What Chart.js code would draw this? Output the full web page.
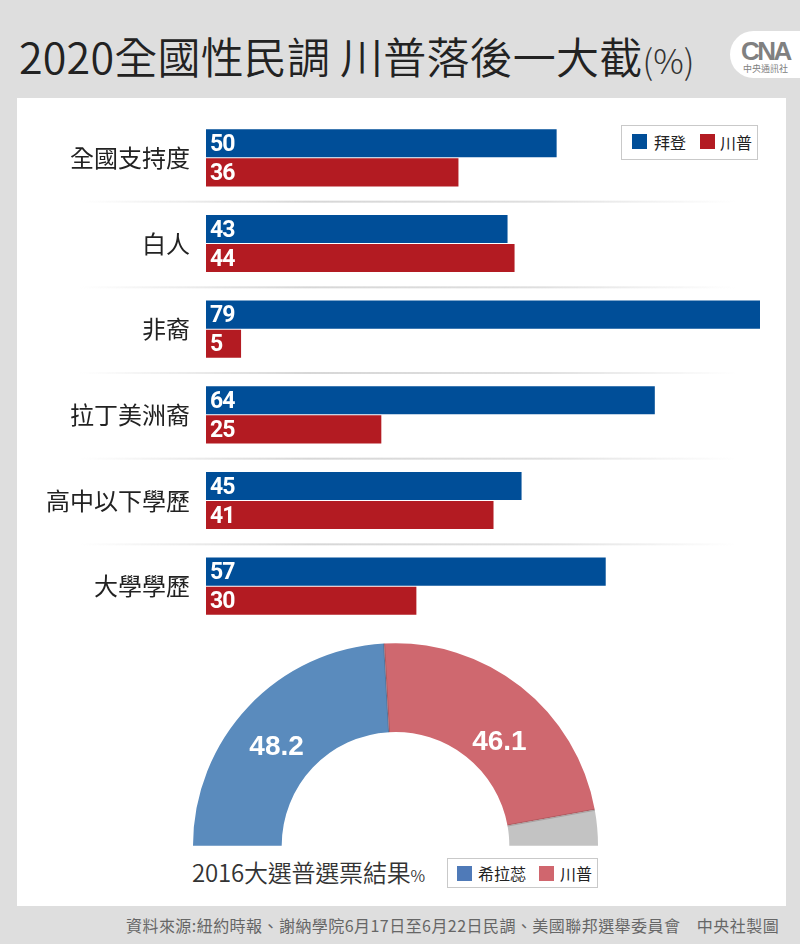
<!DOCTYPE html>
<html lang="zh-Hant">
<head>
<meta charset="utf-8">
<script src="https://cdn.jsdelivr.net/npm/chart.js@4"></script>
<style>
  html, body { margin: 0; padding: 0; }
  body { width: 800px; height: 944px; position: relative; overflow: hidden; background: #dedede;
         font-family: "Noto Sans CJK TC", "Noto Sans", sans-serif; color: #222; }
  .abs { position: absolute; white-space: nowrap; }
  #panel { left: 17px; top: 98px; width: 769px; height: 808px; background: #fff; }
  #title { left: 19px; top: 24px; font-size: 43px; font-weight: 350; line-height: 62px; letter-spacing: 0.2px; }
  #title small { font-size: 34px; font-weight: 300; letter-spacing: 0; color: #333; }
  #logo { left: 730px; top: 31px; width: 70px; height: 47px; background: #fff; border-radius: 24px 0 0 24px; text-align: center; color: #808080; }
  #logo b { position: absolute; left: 11px; top: 8px; font: 900 26px/24px "Liberation Sans", sans-serif; letter-spacing: -2.5px; }
  #logo span { position: absolute; left: 13px; top: 32px; font-size: 9px; line-height: 11px; }
  #barBox { left: 0; top: 115px; width: 800px; height: 514px; }
  #arcBox { left: 193px; top: 643px; width: 405px; height: 203px; }
  .legend { background: #fff; border: 1px solid #c9c9c9; box-sizing: border-box; }
  .swatch { position: absolute; width: 15px; height: 15px; }
  .legend span { position: absolute; font-size: 16px; line-height: 20px; color: #222; }
  #caption { left: 192px; top: 855px; font-size: 24px; font-weight: 350; line-height: 34px; letter-spacing: -0.2px; color: #333; }
  #caption small { font-size: 16px; }
  #source { left: 126px; top: 913px; font-size: 16px; line-height: 24px; color: #666; letter-spacing: 0.45px; }
</style>
</head>
<body>
<div class="abs" id="panel"></div>
<div class="abs" id="title">2020全國性民調 川普落後一大截<small>(%)</small></div>
<div class="abs" id="logo"><b>CNA</b><span>中央通訊社</span></div>

<div class="abs" id="barBox"><canvas id="barChart"></canvas></div>
<div class="abs legend" style="left:621px;top:125px;width:137px;height:35px">
  <i class="swatch" style="left:10px;top:8px;background:#004e98"></i><span style="left:32px;top:6px">拜登</span>
  <i class="swatch" style="left:78px;top:8px;background:#b31b22"></i><span style="left:98px;top:6px">川普</span>
</div>

<div class="abs" id="arcBox"><canvas id="arcChart"></canvas></div>
<div class="abs" id="caption">2016大選普選票結果<small>%</small></div>
<div class="abs legend" style="left:447px;top:858px;width:151px;height:30px">
  <i class="swatch" style="left:9px;top:7px;background:#4f7ab8"></i><span style="left:30px;top:4px">希拉蕊</span>
  <i class="swatch" style="left:91px;top:7px;background:#d0666e"></i><span style="left:112px;top:4px">川普</span>
</div>

<div class="abs" id="source">資料來源:紐約時報、謝納學院6月17日至6月22日民調、美國聯邦選舉委員會　中央社製圖</div>

<script>
const categories = ['全國支持度', '白人', '非裔', '拉丁美洲裔', '高中以下學歷', '大學學歷'];
const biden = [50, 43, 79, 64, 45, 57];
const trump = [36, 44, 5, 25, 41, 30];

const arcLabels = ['希拉蕊', '川普', '其他'];
const arcValues = [48.2, 46.1, 5.7];
const arcColors = ['#5a8bbd', '#cf686f', '#c3c3c3'];

// faded rules between the rows, and the numbers inside the bars
const rowRules = {
  id: 'rowRules',
  beforeDatasetsDraw(chart) {
    const ctx = chart.ctx;
    const y = chart.scales.y;
    for (let i = 0; i < categories.length; i++) {
      const py = y.getPixelForValue(i) + (y.getPixelForValue(1) - y.getPixelForValue(0)) / 2;
      const g = ctx.createLinearGradient(80, 0, 735, 0);
      g.addColorStop(0, 'rgba(215,215,215,0)');
      g.addColorStop(0.35, 'rgba(215,215,215,1)');
      g.addColorStop(0.7, 'rgba(215,215,215,.8)');
      g.addColorStop(1, 'rgba(215,215,215,0)');
      ctx.fillStyle = g;
      ctx.fillRect(80, py, 655, 2);
    }
  }
};
const barNumbers = {
  id: 'barNumbers',
  afterDatasetsDraw(chart) {
    const ctx = chart.ctx;
    ctx.save();
    ctx.fillStyle = '#fff';
    ctx.font = 'bold 23px Roboto, sans-serif';
    ctx.letterSpacing = '-1px';
    ctx.textBaseline = 'middle';
    chart.data.datasets.forEach((ds, d) => {
      chart.getDatasetMeta(d).data.forEach((bar, i) => {
        ctx.fillText(ds.data[i], chart.scales.x.left + 4, bar.y + 2);
      });
    });
    ctx.restore();
  }
};

new Chart(document.getElementById('barChart'), {
  type: 'bar',
  data: {
    labels: categories,
    datasets: [
      { label: '拜登', data: biden, backgroundColor: '#004e98', barPercentage: 0.966, categoryPercentage: 0.678 },
      { label: '川普', data: trump, backgroundColor: '#b31b22', barPercentage: 0.966, categoryPercentage: 0.678 }
    ]
  },
  options: {
    indexAxis: 'y',
    responsive: true,
    maintainAspectRatio: false,
    animation: false,
    layout: { padding: { right: 40 } },
    plugins: { legend: { display: false }, tooltip: { enabled: false } },
    scales: {
      x: { display: false, min: 0, max: 79 },
      y: {
        border: { display: false },
        grid: { display: false },
        afterFit(scale) { scale.width = 206; scale.paddingTop = 0; scale.paddingBottom = 0; },
        ticks: { color: '#222', padding: 8, font: { size: 24, family: '"Noto Sans CJK TC", sans-serif' } }
      }
    }
  },
  plugins: [rowRules, barNumbers]
});

const arcNumbers = {
  id: 'arcNumbers',
  afterDatasetsDraw(chart) {
    const ctx = chart.ctx;
    const arcs = chart.getDatasetMeta(0).data;
    ctx.save();
    // soft dark edge where one slice overlaps the next
    ctx.strokeStyle = 'rgba(70,40,40,.22)';
    ctx.lineWidth = 2;
    [arcs[1], arcs[2]].forEach(a => {
      const c = Math.cos(a.startAngle), s = Math.sin(a.startAngle);
      ctx.beginPath();
      ctx.moveTo(a.x + a.innerRadius * c, a.y + a.innerRadius * s);
      ctx.lineTo(a.x + a.outerRadius * c, a.y + a.outerRadius * s);
      ctx.stroke();
    });
    ctx.fillStyle = '#fff';
    ctx.font = 'bold 28px "Liberation Sans", sans-serif';
    ctx.textAlign = 'center';
    ctx.textBaseline = 'middle';
    // labels sit lower than the middle of each slice in the original
    ctx.fillText(arcValues[0].toFixed(1), arcs[0].getCenterPoint().x - 4, arcs[0].getCenterPoint().y + 10);
    ctx.fillText(arcValues[1].toFixed(1), arcs[1].getCenterPoint().x + 6, arcs[1].getCenterPoint().y + 21);
    ctx.restore();
  }
};

new Chart(document.getElementById('arcChart'), {
  type: 'doughnut',
  data: {
    labels: arcLabels,
    datasets: [{ data: arcValues, backgroundColor: arcColors, borderWidth: 0 }]
  },
  options: {
    responsive: true,
    maintainAspectRatio: false,
    animation: false,
    rotation: -90,
    circumference: 180,
    cutout: '56.2%',
    plugins: { legend: { display: false }, tooltip: { enabled: false } }
  },
  plugins: [arcNumbers]
});
</script>
</body>
</html>
